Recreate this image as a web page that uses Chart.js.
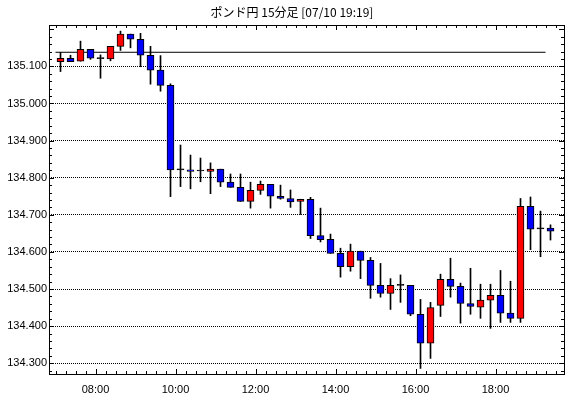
<!DOCTYPE html>
<html>
<head>
<meta charset="utf-8">
<script src="https://cdn.jsdelivr.net/npm/chart.js@4.4.1/dist/chart.umd.min.js"></script>
<style>
  body { margin: 0; background: #fff; }
  canvas { display: block; }
</style>
</head>
<body>
<canvas id="fxChart" width="570" height="398"></canvas>
<script>
// 15分足 ポンド円
const times = [
  '07:00','07:15','07:30','07:45','08:00','08:15','08:30','08:45','09:00','09:15',
  '09:30','09:45','10:00','10:15','10:30','10:45','11:00','11:15','11:30','11:45',
  '12:00','12:15','12:30','12:45','13:00','13:15','13:30','13:45','14:00','14:15',
  '14:30','14:45','15:00','15:15','15:30','15:45','16:00','16:15','16:30','16:45',
  '17:00','17:15','17:30','17:45','18:00','18:15','18:30','18:45','19:00','19:15'
];
const open = [
  135.113,135.122,135.114,135.146,135.121,135.120,135.154,135.187,135.173,135.130,
  135.090,135.049,134.821,134.821,134.818,134.817,134.823,134.788,134.774,134.736,
  134.766,134.782,134.750,134.744,134.736,134.742,134.644,134.634,134.596,134.560,
  134.602,134.577,134.510,134.488,134.510,134.510,134.432,134.354,134.456,134.526,
  134.507,134.461,134.451,134.470,134.483,134.435,134.421,134.723,134.662,134.664
];
const high = [
  135.138,135.130,135.168,135.146,135.131,135.154,135.195,135.187,135.189,135.154,
  135.129,135.053,134.888,134.861,134.853,134.840,134.823,134.810,134.810,134.788,
  134.791,134.782,134.780,134.767,134.742,134.747,134.718,134.648,134.610,134.621,
  134.602,134.585,134.569,134.528,134.538,134.510,134.472,134.464,134.540,134.583,
  134.516,134.556,134.513,134.513,134.550,134.521,134.744,134.748,134.710,134.673
];
const low = [
  135.086,135.113,135.114,135.119,135.068,135.115,135.143,135.150,135.099,135.052,
  135.033,134.749,134.776,134.770,134.789,134.757,134.776,134.774,134.736,134.718,
  134.755,134.718,134.742,134.720,134.701,134.636,134.627,134.596,134.532,134.548,
  134.528,134.475,134.478,134.445,134.464,134.428,134.286,134.313,134.426,134.478,
  134.408,134.432,134.421,134.394,134.410,134.410,134.410,134.606,134.587,134.632
];
const close = [
  135.122,135.113,135.146,135.122,135.121,135.154,135.187,135.173,135.130,135.090,
  135.049,134.821,134.821,134.817,134.818,134.823,134.788,134.774,134.736,134.766,
  134.782,134.750,134.744,134.735,134.742,134.644,134.633,134.596,134.560,134.602,
  134.577,134.510,134.488,134.510,134.510,134.432,134.354,134.450,134.526,134.507,
  134.461,134.453,134.470,134.483,134.435,134.421,134.723,134.661,134.662,134.656
];
const refLevel = 135.138;
const refFrom = '07:00';
const refTo = '19:15';
const xTickLabels = ['08:00','10:00','12:00','14:00','16:00','18:00'];
const yTickValues = [134.3,134.4,134.5,134.6,134.7,134.8,134.9,135.0,135.1];
const titleText = 'ポンド円 15分足 [07/10 19:19]';

const toMin = s => { const [h, m] = s.split(':').map(Number); return h * 60 + m; };
const mid = s => toMin(s) + 7.5;

const bodyColors = close.map((c, i) => c > open[i] ? '#ff0000' : (c < open[i] ? '#0000ff' : '#000000'));

const frameTicks = {
  id: 'frameTicks',
  afterDraw(chart) {
    const { ctx, chartArea: a, scales: { x, y } } = chart;
    ctx.save();
    ctx.strokeStyle = '#000';
    ctx.lineWidth = 1;
    ctx.beginPath();
    for (let n = Math.ceil(y.min * 50); n <= Math.floor(y.max * 50); n++) {
      const py = Math.round(y.getPixelForValue(n / 50)) + 0.5;
      const len = n % 5 === 0 ? 5 : 3;
      ctx.moveTo(a.left, py); ctx.lineTo(a.left + len, py);
      ctx.moveTo(a.right, py); ctx.lineTo(a.right - len, py);
    }
    for (let t = Math.ceil(x.min / 15) * 15; t <= x.max; t += 15) {
      const px = Math.round(x.getPixelForValue(t)) + 0.5;
      const len = t % 120 === 0 ? 5 : 3;
      ctx.moveTo(px, a.bottom); ctx.lineTo(px, a.bottom - len);
      ctx.moveTo(px, a.top); ctx.lineTo(px, a.top + len);
    }
    ctx.stroke();
    ctx.strokeRect(a.left + 0.5, a.top + 0.5, a.right - a.left, a.bottom - a.top);
    ctx.fillStyle = '#000';
    ctx.font = '12px "Noto Sans CJK JP"';
    ctx.textAlign = 'center';
    ctx.textBaseline = 'middle';
    ctx.fillText(titleText, 292, 12);
    ctx.restore();
  }
};

const axisFont = { family: '"Liberation Sans", sans-serif', size: 11 };

new Chart(document.getElementById('fxChart').getContext('2d'), {
  type: 'bar',
  data: {
    datasets: [
      {
        type: 'line',
        data: [{ x: toMin(refFrom), y: refLevel }, { x: toMin(refTo), y: refLevel }],
        borderColor: '#000',
        borderWidth: 1,
        pointRadius: 0,
        order: 3
      },
      {
        data: times.map((t, i) => ({ x: mid(t), y: [low[i], high[i]] })),
        backgroundColor: '#000',
        borderWidth: 0,
        barThickness: 1,
        grouped: false,
        order: 2
      },
      {
        data: times.map((t, i) => ({ x: mid(t), y: [open[i], close[i]] })),
        backgroundColor: bodyColors,
        borderColor: '#000',
        borderWidth: 1,
        borderSkipped: false,
        barThickness: 7,
        minBarLength: 1,
        grouped: false,
        order: 1
      }
    ]
  },
  options: {
    responsive: false,
    animation: false,
    devicePixelRatio: 1,
    layout: { padding: { top: 25, right: 6, left: 0, bottom: 0 } },
    plugins: { legend: { display: false }, tooltip: { enabled: false }, title: { display: false } },
    scales: {
      x: {
        type: 'linear',
        offset: false,
        min: 410.25,
        max: 1182.75,
        grid: { display: false, offset: false },
        border: { display: false },
        afterBuildTicks: s => { s.ticks = xTickLabels.map(l => ({ value: toMin(l) })); },
        afterFit: s => { s.height = 24; },
        ticks: {
          autoSkip: false,
          maxRotation: 0,
          padding: 1,
          color: '#000',
          font: axisFont,
          callback: v => xTickLabels.find(l => toMin(l) === v) || ''
        }
      },
      y: {
        min: 134.271,
        max: 135.2115,
        grid: { color: '#000', lineWidth: 1, drawTicks: false },
        border: { display: false, dash: [1, 1] },
        afterBuildTicks: s => { s.ticks = yTickValues.map(v => ({ value: v })); },
        afterFit: s => { s.width = 49; },
        ticks: {
          padding: 2,
          color: '#000',
          font: axisFont,
          callback: v => v.toFixed(3)
        }
      }
    }
  },
  plugins: [frameTicks]
});
</script>
</body>
</html>
